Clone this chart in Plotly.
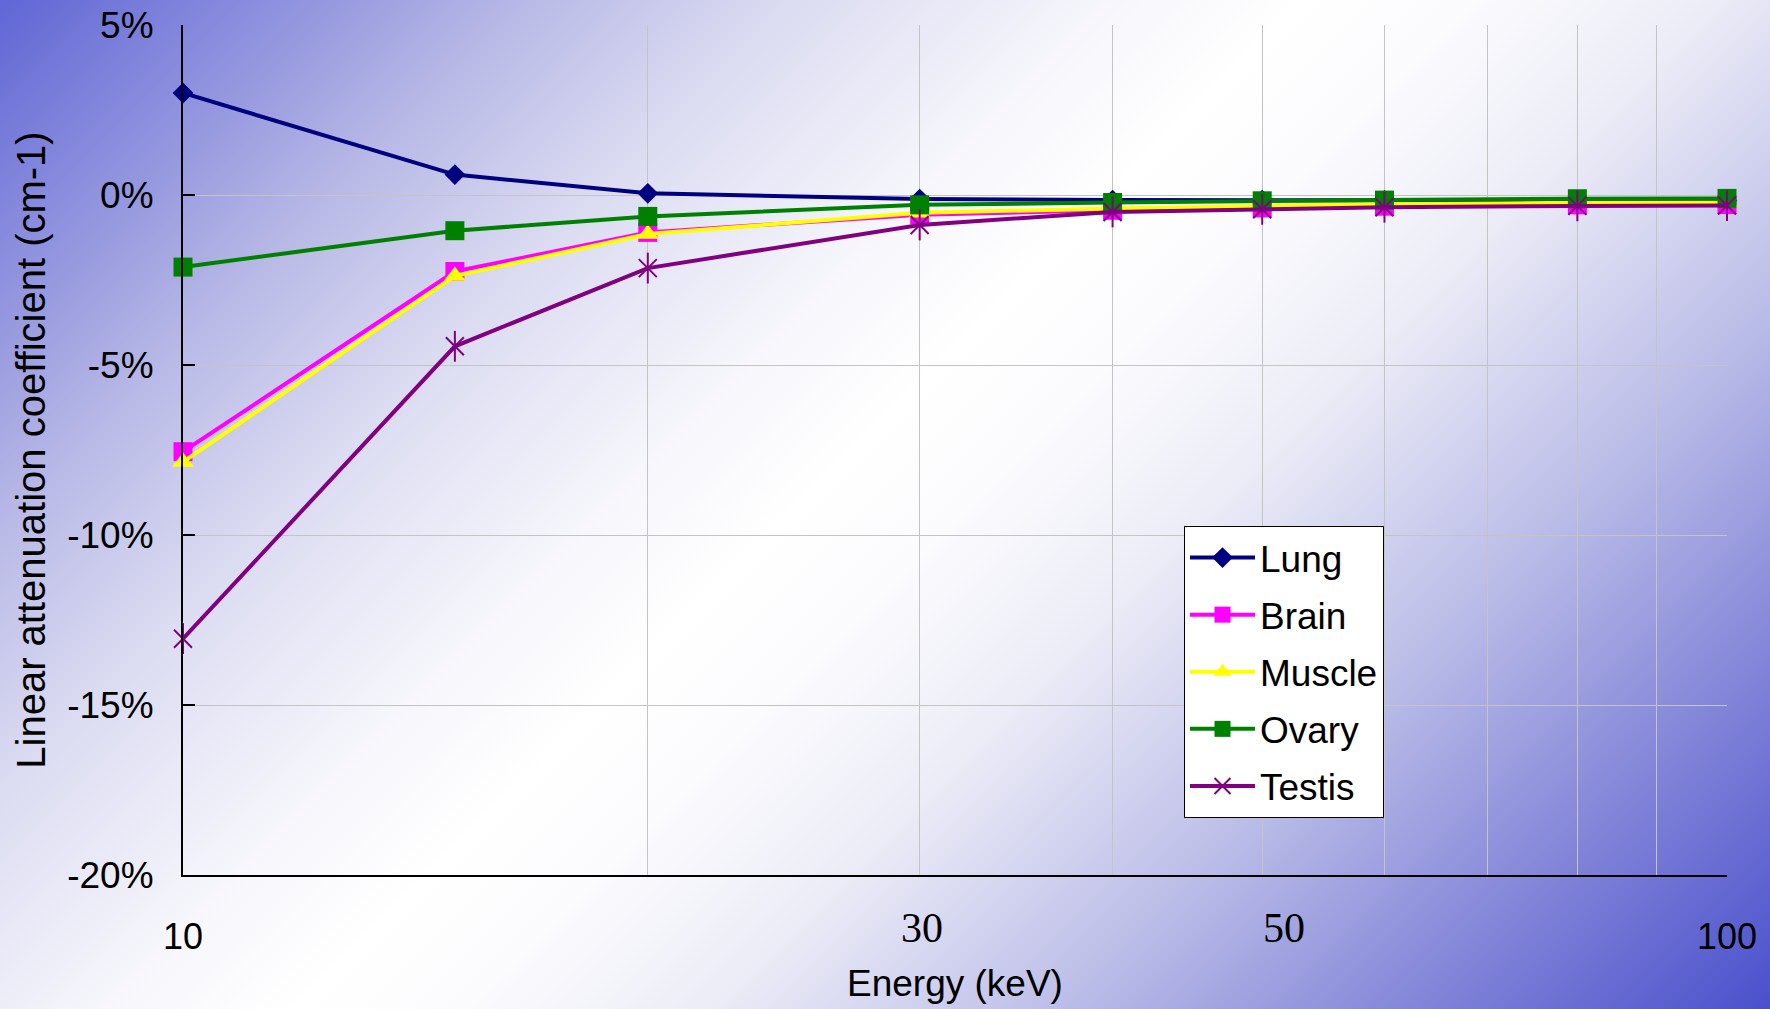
import base64
import math
import plotly.graph_objects as go

# Photon energy (keV) and relative change in linear attenuation coefficient (%)
energy = [10, 15, 20, 30, 40, 50, 60, 80, 100]
lung = [3.0, 0.6, 0.05, -0.12, -0.15, -0.15, -0.16, -0.16, -0.16]
brain = [-7.55, -2.25, -1.1, -0.58, -0.45, -0.38, -0.33, -0.29, -0.28]
muscle = [-7.85, -2.38, -1.15, -0.52, -0.4, -0.33, -0.27, -0.23, -0.22]
ovary = [-2.12, -1.05, -0.63, -0.29, -0.22, -0.17, -0.15, -0.11, -0.1]
testis = [-13.05, -4.45, -2.15, -0.88, -0.5, -0.42, -0.36, -0.32, -0.31]

y_ticks = [5, 0, -5, -10, -15, -20]
y_labels = ["5%", "0%", "-5%", "-10%", "-15%", "-20%"]
x_ticks = [10, 100]
x_labels = ["10", "100"]
x_serif_ticks = [30, 50]
x_serif_labels = ["30", "50"]
x_minor = [20, 30, 40, 50, 60, 70, 80, 90]

W, H = 1770, 1009
ML, MR, MT, MB = 183, 43, 25, 134
PW, PH = W - ML - MR, H - MT - MB

SANS = "Liberation Sans, Arial, sans-serif"
SERIF = "Times New Roman, Liberation Serif, DejaVu Serif, serif"

# Diagonal blue-white-blue page background (45 degree bands)
stops = [
    (0.0, "#6066d5"), (0.127, "#9a9ce0"), (0.19, "#b8b9e6"), (0.287, "#dcdcf2"),
    (0.4, "#f6f6fc"), (0.47, "#ffffff"), (0.53, "#fbfbfe"), (0.618, "#ececf7"),
    (0.745, "#bbbde8"), (0.873, "#8284d8"), (1.0, "#4a50cc"),
]
stop_xml = "".join(f'<stop offset="{o}" stop-color="{c}"/>' for o, c in stops)
half = (W + H) / 2
svg = (f'<svg xmlns="http://www.w3.org/2000/svg" width="{W}" height="{H}" '
       f'viewBox="0 0 {W} {H}" preserveAspectRatio="none">'
       f'<defs><linearGradient id="g" gradientUnits="userSpaceOnUse" '
       f'x1="0" y1="0" x2="{half}" y2="{half}">{stop_xml}'
       f'</linearGradient></defs>'
       f'<rect x="0" y="0" width="{W}" height="{H}" fill="url(#g)"/></svg>')
bg_uri = "data:image/svg+xml;base64," + base64.b64encode(svg.encode()).decode()

series = [
    ("Lung", lung, "#000080", "diamond", 16),
    ("Brain", brain, "#ff00ff", "square", 19),
    ("Muscle", muscle, "#ffff00", "triangle-up", 19),
    ("Ovary", ovary, "#008000", "square", 19),
]

fig = go.Figure()
for name, vals, color, symbol, size in series:
    fig.add_trace(go.Scatter(
        x=energy, y=vals, name=name, legendgroup=name,
        mode="lines+markers",
        line=dict(color=color, width=4),
        marker=dict(symbol=symbol, size=size, color=color),
        cliponaxis=False,
    ))

fig.add_trace(go.Scatter(
    x=energy, y=testis, name="Testis", legendgroup="Testis",
    mode="lines+markers",
    line=dict(color="#800080", width=4),
    marker=dict(symbol="x-thin-open", size=18, color="#800080",
                line=dict(color="#800080", width=2)),
    cliponaxis=False,
))
# vertical stroke completing the star marker
fig.add_trace(go.Scatter(
    x=energy, y=testis, mode="markers", showlegend=False, hoverinfo="skip",
    legendgroup="Testis",
    marker=dict(symbol="line-ns-open", size=22, color="#800080",
                line=dict(color="#800080", width=2)),
    cliponaxis=False,
))

# intermediate energy labels set in a serif face
serif_annotations = [
    dict(x=math.log10(v), y=-0.0624, xref="x", yref="paper", text=t,
         showarrow=False, xanchor="center", yanchor="middle",
         xshift=(22 if v == 50 else 2),
         font=dict(family=SERIF, size=42, color="#000000"))
    for v, t in zip(x_serif_ticks, x_serif_labels)
]

fig.update_layout(
    width=W, height=H,
    margin=dict(l=ML, r=MR, t=MT, b=MB, autoexpand=False),
    paper_bgcolor="#ffffff",
    plot_bgcolor="rgba(0,0,0,0)",
    font=dict(family=SANS, color="#000000", size=36),
    images=[dict(
        source=bg_uri, xref="paper", yref="paper",
        x=-ML / PW, y=1 + MT / PH, sizex=W / PW, sizey=H / PH,
        xanchor="left", yanchor="top", sizing="stretch", layer="below",
    )],
    annotations=serif_annotations,
    xaxis=dict(
        type="log", range=[1, 2],
        tickmode="array", tickvals=x_ticks, ticktext=x_labels,
        ticks="", ticklabelstandoff=29,
        tickfont=dict(family=SANS, size=36),
        showgrid=True, gridcolor="#c4c4c4", gridwidth=1,
        minor=dict(tickmode="array", tickvals=x_minor, showgrid=True,
                   gridcolor="#c4c4c4", gridwidth=1, ticks=""),
        showline=True, linecolor="#000000", linewidth=2,
        zeroline=False,
        title=dict(text="Energy (keV)", font=dict(family=SANS, size=37),
                   standoff=14),
    ),
    yaxis=dict(
        range=[-20, 5],
        tickmode="array", tickvals=y_ticks, ticktext=y_labels,
        ticks="inside", ticklen=12, tickwidth=2, tickcolor="#000000",
        ticklabelstandoff=20,
        tickfont=dict(family=SANS, size=37),
        showgrid=True, gridcolor="#c4c4c4", gridwidth=1,
        showline=True, linecolor="#000000", linewidth=2,
        zeroline=False,
        title=dict(text="Linear attenuation coefficient (cm-1)",
                   font=dict(family=SANS, size=40), standoff=9),
    ),
    legend=dict(
        x=(1184 - ML) / PW, y=(H - MB - 526) / PH,
        xanchor="left", yanchor="top",
        bgcolor="#ffffff", bordercolor="#000000", borderwidth=1,
        font=dict(family=SANS, size=37, color="#000000"),
        traceorder="grouped", tracegroupgap=6,
        itemwidth=65,
    ),
    showlegend=True,
)

fig.write_html("out.html")
